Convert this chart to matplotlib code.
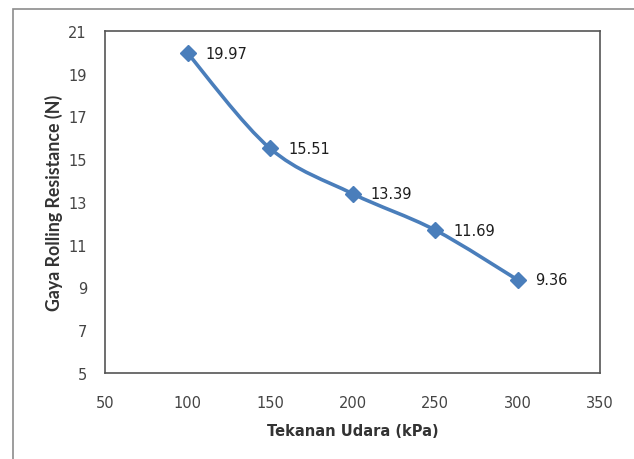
import numpy as np
import matplotlib
matplotlib.use("Agg")
import matplotlib.pyplot as plt
from matplotlib.path import Path
from matplotlib.patches import PathPatch, Rectangle

# Data
tekanan = [100, 150, 200, 250, 300]
gaya = [19.97, 15.51, 13.39, 11.69, 9.36]
label_titik = ["19.97", "15.51", "13.39", "11.69", "9.36"]

xticks = [50, 100, 150, 200, 250, 300, 350]
yticks = [5, 7, 9, 11, 13, 15, 17, 19, 21]

warna = "#4A7EBB"
plt.rcParams['font.family'] = ['DejaVu Sans']

fig = plt.figure(figsize=(6.34, 4.60), dpi=100)
ax = fig.add_axes([105/634, 1-374/460, 495/634, 342/460])

# outer chart border (only top & left visible in the crop)
fig.patches.append(Rectangle((13/634, -0.2), 1.2, 1.2 - 10/460,
                             transform=fig.transFigure, fill=False,
                             edgecolor="#8c8c8c", linewidth=1.2))

# smooth line like excel (catmull-rom -> bezier)
def smooth_path(x, y):
    pts = np.column_stack([x, y]).astype(float)
    n = len(pts)
    verts = [pts[0]]
    codes = [Path.MOVETO]
    for i in range(n - 1):
        p0 = pts[i - 1] if i > 0 else pts[i]
        p1 = pts[i]
        p2 = pts[i + 1]
        p3 = pts[i + 2] if i + 2 < n else pts[i + 1]
        c1 = p1 + (p2 - p0) / 6.0
        c2 = p2 - (p3 - p1) / 6.0
        verts += [c1, c2, p2]
        codes += [Path.CURVE4] * 3
    return Path(verts, codes)

ax.add_patch(PathPatch(smooth_path(tekanan, gaya), fill=False,
                       edgecolor=warna, linewidth=2.6, capstyle="round"))
ax.plot(tekanan, gaya, linestyle="none", marker="D", markersize=8,
        color=warna)

for x, y, t in zip(tekanan, gaya, label_titik):
    ax.annotate(t, (x, y), xytext=(13, 0), textcoords="offset points",
                ha="left", va="center", fontsize=10.5, color="#1e1e1e")

ax.set_xlim(50, 350)
ax.set_ylim(5, 21)
ax.set_xticks(xticks)
ax.set_yticks(yticks)
ax.tick_params(length=0, labelsize=10.5, labelcolor="#444444")
ax.tick_params(axis="x", pad=16)
ax.tick_params(axis="y", pad=13)
for s in ax.spines.values():
    s.set_color("#555555")
    s.set_linewidth(1.2)

ax.set_xlabel("Tekanan Udara (kPa)", fontsize=10.5, fontweight="bold",
              color="#333333", labelpad=9)
ax.set_ylabel("Gaya Rolling Resistance (N)", fontsize=12.8, fontweight="bold",
              color="#333333", labelpad=4, family=["Lato", "DejaVu Sans"])

fig.savefig("out.png", dpi=100)
